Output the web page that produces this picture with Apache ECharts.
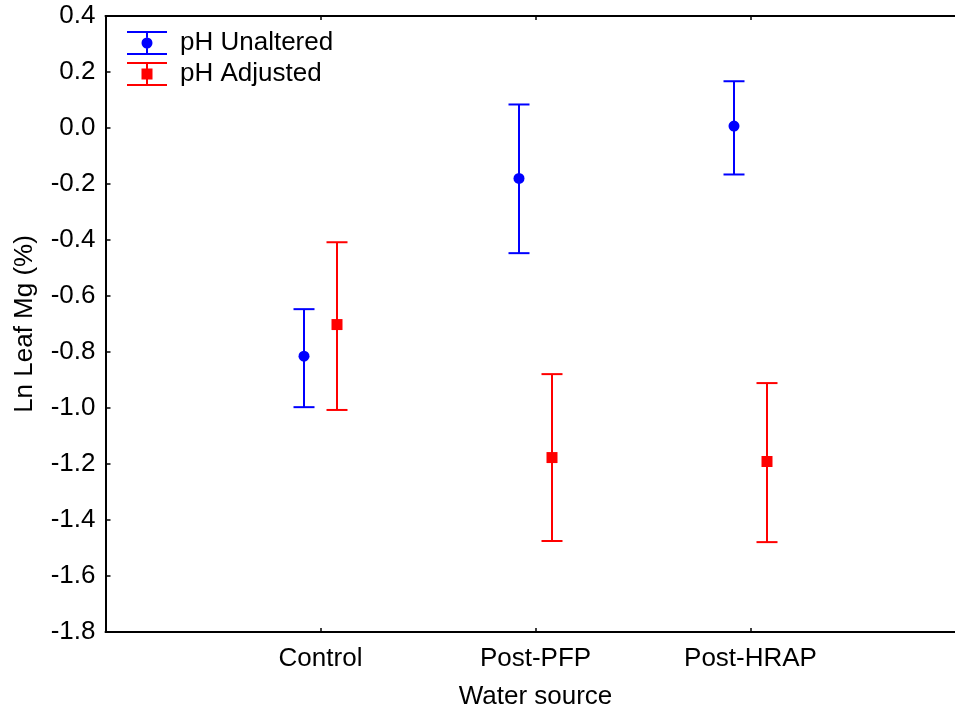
<!DOCTYPE html>
<html>
<head>
<meta charset="utf-8">
<script src="https://cdn.jsdelivr.net/npm/echarts@6/dist/echarts.min.js"></script>
<style>
  html, body { margin: 0; padding: 0; background: #fff; }
  #chart { width: 955px; height: 715px; }
</style>
</head>
<body>
<div id="chart"></div>
<script>
// 数据：均值与误差范围
const categories = ['Control', 'Post-PFP', 'Post-HRAP'];
const unalteredMean = [-0.815, -0.180, 0.007];
const unalteredLow = [-0.997, -0.447, -0.166];
const unalteredHigh = [-0.647, 0.084, 0.167];
const adjustedMean = [-0.702, -1.177, -1.191];
const adjustedLow = [-1.007, -1.475, -1.479];
const adjustedHigh = [-0.408, -0.879, -0.911];
const yTicks = { min: -1.8, max: 0.4, step: 0.2 };

const font = "'Liberation Sans', Arial, sans-serif";
const catPos = categories.map((c, i) => i + 1);

function toRows(mean, low, high) {
  return mean.map((m, i) => [catPos[i], m, low[i], high[i]]);
}

// 图例图标：带误差线的标记
const iconCircle = 'path://M0,0H40V2H0Z M19,2H21V6.5H19Z M19,17.5H21V22H19Z M0,22H40V24H0Z ' +
  'M25.5,12A5.5,5.5 0 1 1 14.5,12A5.5,5.5 0 1 1 25.5,12Z';
const iconSquare = 'path://M0,0H40V2H0Z M19,2H21V6.5H19Z M19,17.5H21V22H19Z M0,22H40V24H0Z ' +
  'M14.5,6.5H25.5V17.5H14.5Z';

function makeRender(offset, color, shape) {
  return function (params, api) {
    const x = api.value(0);
    const pm = api.coord([x, api.value(1)]);
    const pl = api.coord([x, api.value(2)]);
    const ph = api.coord([x, api.value(3)]);
    const cx = pm[0] + offset;
    const capW = 10.5;
    const lineStyle = { stroke: color, lineWidth: 2 };
    const marker = shape === 'circle'
      ? { type: 'circle', shape: { cx: cx, cy: pm[1], r: 5.5 }, style: { fill: color } }
      : { type: 'rect', shape: { x: cx - 5.5, y: pm[1] - 5.5, width: 11, height: 11 }, style: { fill: color } };
    return {
      type: 'group',
      children: [
        { type: 'line', shape: { x1: cx, y1: ph[1], x2: cx, y2: pl[1] }, style: lineStyle },
        { type: 'line', shape: { x1: cx - capW, y1: ph[1], x2: cx + capW, y2: ph[1] }, style: lineStyle },
        { type: 'line', shape: { x1: cx - capW, y1: pl[1], x2: cx + capW, y2: pl[1] }, style: lineStyle },
        marker
      ]
    };
  };
}

const chart = echarts.init(document.getElementById('chart'));
chart.setOption({
  backgroundColor: '#ffffff',
  animation: false,
  textStyle: { fontFamily: font },
  grid: { left: 105.5, top: 16, width: 860, height: 616, containLabel: false, outerBoundsMode: 'none' },
  legend: {
    orient: 'vertical',
    left: 127,
    top: 30,
    padding: 0,
    itemWidth: 40,
    itemHeight: 24,
    itemGap: 5,
    textStyle: { fontFamily: font, fontSize: 26, color: '#000', padding: [0, 0, 0, 8] },
    data: [
      { name: 'pH Unaltered', icon: iconCircle },
      { name: 'pH Adjusted', icon: iconSquare }
    ]
  },
  xAxis: [
    {
      type: 'value',
      min: 0,
      max: 4,
      position: 'bottom',
      splitLine: { show: false },
      axisLine: { show: true, onZero: false, lineStyle: { color: '#000', width: 2 } },
      axisTick: { show: true, inside: true, length: 4, customValues: catPos, lineStyle: { color: '#000', width: 1.5 } },
      axisLabel: {
        customValues: catPos,
        formatter: v => categories[Math.round(v) - 1] || '',
        color: '#000',
        fontSize: 26,
        fontFamily: font,
        margin: 14
      },
      name: 'Water source',
      nameLocation: 'middle',
      nameGap: 52,
      nameTextStyle: { color: '#000', fontSize: 26, fontFamily: font }
    },
    {
      type: 'value',
      min: 0,
      max: 4,
      position: 'top',
      splitLine: { show: false },
      axisLine: { show: true, onZero: false, lineStyle: { color: '#000', width: 2 } },
      axisTick: { show: true, inside: true, length: 4, customValues: catPos, lineStyle: { color: '#000', width: 1.5 } },
      axisLabel: { show: false }
    }
  ],
  yAxis: {
    type: 'value',
    min: yTicks.min,
    max: yTicks.max,
    interval: yTicks.step,
    splitLine: { show: false },
    axisLine: { show: true, onZero: false, lineStyle: { color: '#000', width: 2 } },
    axisTick: { show: true, inside: true, length: 5, lineStyle: { color: '#000', width: 1.5 } },
    axisLabel: {
      formatter: v => v.toFixed(1),
      color: '#000',
      fontSize: 26,
      fontFamily: font,
      margin: 10
    },
    name: 'Ln Leaf Mg (%)',
    nameLocation: 'middle',
    nameGap: 68,
    nameTextStyle: { color: '#000', fontSize: 26, fontFamily: font }
  },
  series: [
    {
      name: 'pH Unaltered',
      type: 'custom',
      itemStyle: { color: '#0000ff' },
      renderItem: makeRender(-16.5, '#0000ff', 'circle'),
      encode: { x: 0, y: [1, 2, 3] },
      data: toRows(unalteredMean, unalteredLow, unalteredHigh)
    },
    {
      name: 'pH Adjusted',
      type: 'custom',
      itemStyle: { color: '#ff0000' },
      renderItem: makeRender(16.5, '#ff0000', 'square'),
      encode: { x: 0, y: [1, 2, 3] },
      data: toRows(adjustedMean, adjustedLow, adjustedHigh)
    }
  ]
});
</script>
</body>
</html>
